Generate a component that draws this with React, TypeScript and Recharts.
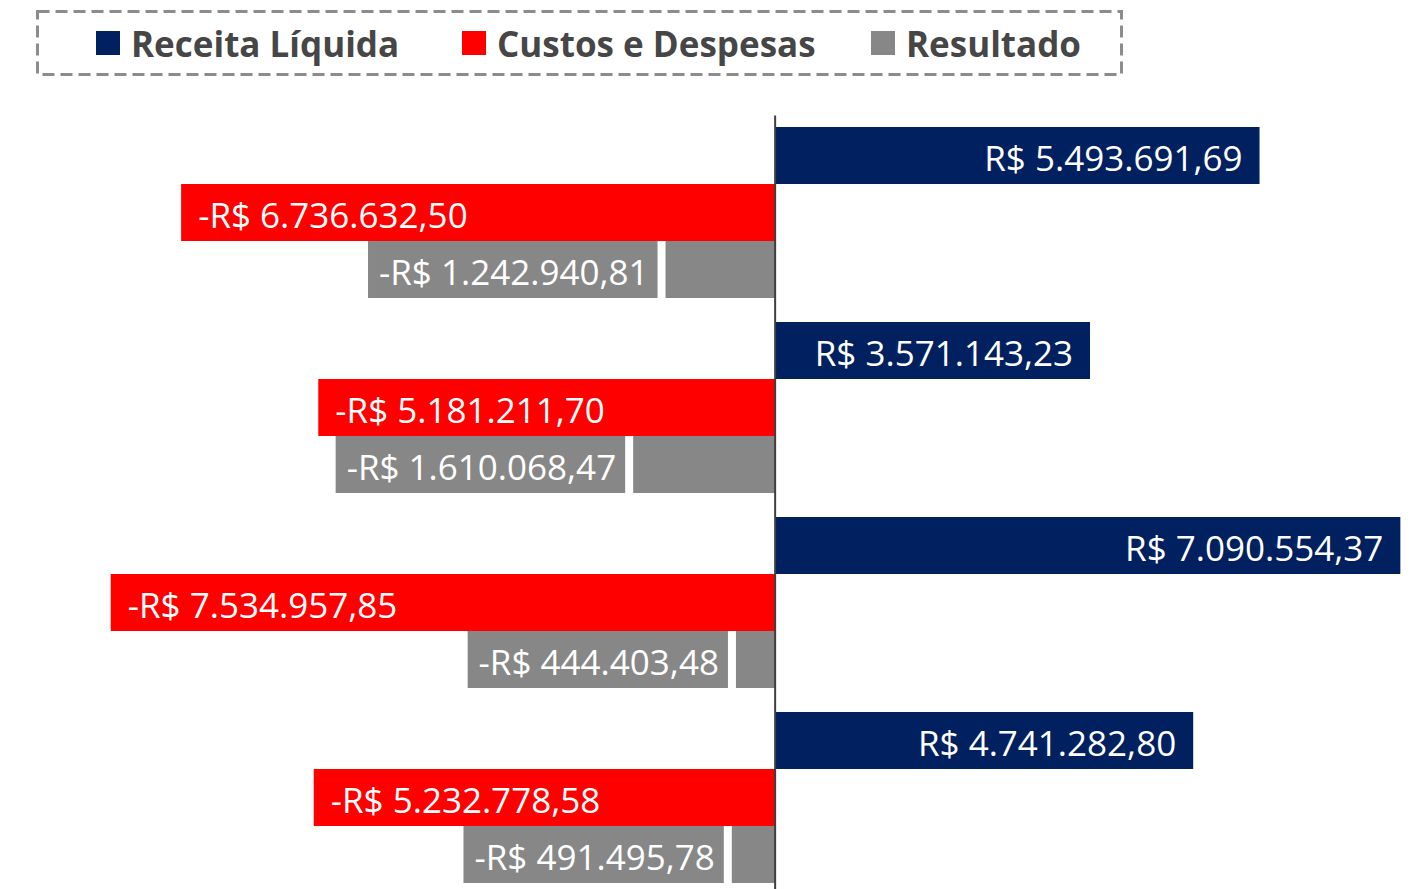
import React from 'react';
import { BarChart, Bar, XAxis, YAxis, ReferenceLine, Legend, LabelList } from 'recharts';

// one entry per period (category axis is hidden in the original)
const periodos = ['Período 1', 'Período 2', 'Período 3', 'Período 4'];
const receitaLiquida = [5493691.69, 3571143.23, 7090554.37, 4741282.8];
const custosDespesas = [-6736632.5, -5181211.7, -7534957.85, -5232778.58];
const resultado = [-1242940.81, -1610068.47, -444403.48, -491495.78];
const seriesNames = ['Receita Líquida', 'Custos e Despesas', 'Resultado'];

const chartData = periodos.map((periodo, i) => ({
  periodo,
  receita: receitaLiquida[i],
  custos: custosDespesas[i],
  resultado: resultado[i],
}));

const FONT = '"Open Sans", "Noto Sans", sans-serif';
const LABEL_SIZE = 35;
const NAVY = '#002060';
const RED = '#FF0000';
const GRAY = '#878787';

// legend entries x offset (relative to the dashed box)
const legendOffsets = [60, 426, 835];

const formatBRL = (v: number) => {
  const [int, dec] = Math.abs(v).toFixed(2).split('.');
  const grouped = int.replace(/\B(?=(\d{3})+(?!\d))/g, '.');
  return `${v < 0 ? '-' : ''}R$ ${grouped},${dec}`;
};

let ctx: CanvasRenderingContext2D | null = null;
const textWidth = (s: string) => {
  if (!ctx) ctx = document.createElement('canvas').getContext('2d');
  if (!ctx) return s.length * LABEL_SIZE * 0.52;
  ctx.font = `${LABEL_SIZE}px "Open Sans"`;
  return ctx.measureText(s).width;
};

const num = (a: any, b: any) => (typeof a === 'number' ? a : Number(b) || 0);

const getBox = (props: any) => {
  const vb = props.viewBox || {};
  const x = num(props.x, vb.x);
  const y = num(props.y, vb.y);
  const w = num(props.width, vb.width);
  const h = num(props.height, vb.height);
  return { left: Math.min(x, x + w), right: Math.max(x, x + w), y, h };
};

const baseline = (y: number, h: number) => y + h / 2 + LABEL_SIZE * 0.44;

// label inside the bar, at its far end
const renderInsideEnd = (props: any) => {
  const { left, right, y, h } = getBox(props);
  const v = Number(props.value);
  const neg = v < 0;
  return (
    <text
      x={neg ? left + 17 : right - 17}
      y={baseline(y, h)}
      textAnchor={neg ? 'start' : 'end'}
      fill="#ffffff"
      fontSize={LABEL_SIZE}
      fontFamily={FONT}
    >
      {formatBRL(v)}
    </text>
  );
};

// label outside the bar (to the left) on a gray box
const renderBoxedLabel = (props: any) => {
  const { left, y, h } = getBox(props);
  const txt = formatBRL(Number(props.value));
  const boxW = textWidth(txt) + 20;
  const boxRight = left - 8;
  return (
    <g>
      <rect x={boxRight - boxW} y={y} width={boxW} height={h} fill={GRAY} />
      <text
        x={boxRight - 9}
        y={baseline(y, h)}
        textAnchor="end"
        fill="#ffffff"
        fontSize={LABEL_SIZE}
        fontFamily={FONT}
      >
        {txt}
      </text>
    </g>
  );
};

const renderLegend = (props: any) => {
  const payload = [...(props.payload || [])].sort(
    (a: any, b: any) => seriesNames.indexOf(a.value) - seriesNames.indexOf(b.value)
  );
  return (
    <div style={{ position: 'relative', width: 1087, height: 66 }}>
      <svg width={1087} height={66} style={{ position: 'absolute', left: 0, top: 0 }}>
        <rect x={1.5} y={1.5} width={1084} height={63} fill="none" stroke="#8c8c8c" strokeWidth={3} strokeDasharray="12 6" />
      </svg>
      {payload.map((entry: any, i: number) => (
        <div
          key={entry.value}
          style={{
            position: 'absolute',
            left: legendOffsets[i],
            top: 0,
            height: 66,
            display: 'flex',
            alignItems: 'center',
            whiteSpace: 'nowrap',
          }}
        >
          <span style={{ width: 24, height: 24, background: entry.color, marginRight: 11, display: 'inline-block' }} />
          <span style={{ fontFamily: FONT, fontWeight: 700, fontSize: 35, color: '#464646' }}>{entry.value}</span>
        </div>
      ))}
    </div>
  );
};

export default function App() {
  return (
    <div
      style={{
        position: 'fixed',
        left: 0,
        top: 0,
        width: 1414,
        height: 889,
        overflow: 'hidden',
        background: '#ffffff',
        fontFamily: FONT,
      }}
    >
      <BarChart
        width={1414}
        height={900}
        data={chartData}
        layout="vertical"
        margin={{ top: 115.5, right: 4, bottom: 4.5, left: 105 }}
        barCategoryGap={11.5}
        barGap={0}
      >
        <XAxis type="number" domain={[-7600000, 7200000]} hide />
        <YAxis type="category" dataKey="periodo" hide />
        <Legend
          layout="vertical"
          align="center"
          verticalAlign="middle"
          content={renderLegend}
          wrapperStyle={{ position: 'absolute', left: 36, top: 10, width: 1087, height: 66 }}
        />
        <Bar dataKey="receita" name={seriesNames[0]} fill={NAVY} isAnimationActive={false}>
          <LabelList dataKey="receita" content={renderInsideEnd} />
        </Bar>
        <Bar dataKey="custos" name={seriesNames[1]} fill={RED} isAnimationActive={false}>
          <LabelList dataKey="custos" content={renderInsideEnd} />
        </Bar>
        <Bar dataKey="resultado" name={seriesNames[2]} fill={GRAY} isAnimationActive={false}>
          <LabelList dataKey="resultado" content={renderBoxedLabel} />
        </Bar>
        <ReferenceLine x={0} stroke="#3f3f3f" strokeWidth={2} />
      </BarChart>
    </div>
  );
}
